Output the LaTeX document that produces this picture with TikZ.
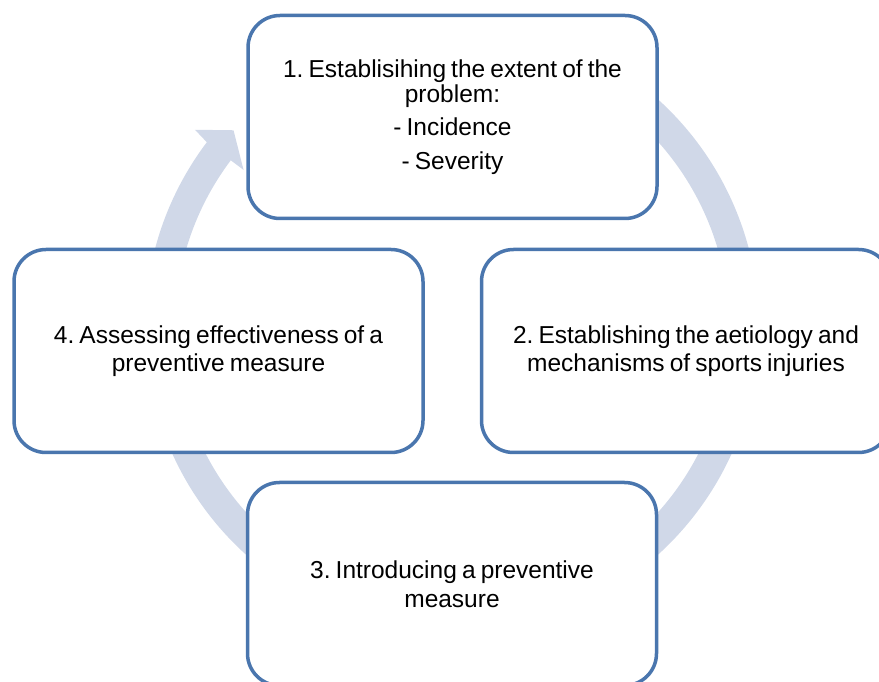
\documentclass[tikz,border=0pt]{standalone}
\usepackage{fontspec}
\setmainfont[WordSpace=0.75]{Liberation Sans}
\definecolor{cycleblue}{RGB}{74,118,174}
\definecolor{cyclering}{RGB}{208,216,232}
\begin{document}
\frenchspacing
\begin{tikzpicture}[x=1pt,y=1pt,
		stage/.style={draw=cycleblue,line width=3.5pt,fill=white,rounded corners=32pt,
			minimum width=409pt,minimum height=203pt,inner sep=0pt,align=center,
			font=\fontsize{24.5}{28.5}\selectfont}]
		\useasboundingbox (0,0) rectangle (879,681);
		\clip (0,0) rectangle (879,681);
		\fill[cyclering,shift={(452,354)}] (143:307) arc[start angle=143,end angle=430,radius=307]
			-- (430:277) arc[start angle=430,end angle=143,radius=277]
			-- (143:261) -- (138:294) -- (142.5:324) -- cycle;
		\node[stage,font=\fontsize{24.5}{24.5}\selectfont] (extent) at (452.5,564)
			{1. Establisihing the extent of the\\problem:\\[9pt]- Incidence\\[9pt]- Severity};
		\node[stage] (aetiology) at (686,330) {2. Establishing the aetiology and\\mechanisms of sports injuries};
		\node[stage] (introduce) at (452,97) {3. Introducing a preventive\\measure};
		\node[stage] (assess) at (218.5,330) {4. Assessing effectiveness of a\\preventive measure};
\end{tikzpicture}
\end{document}
